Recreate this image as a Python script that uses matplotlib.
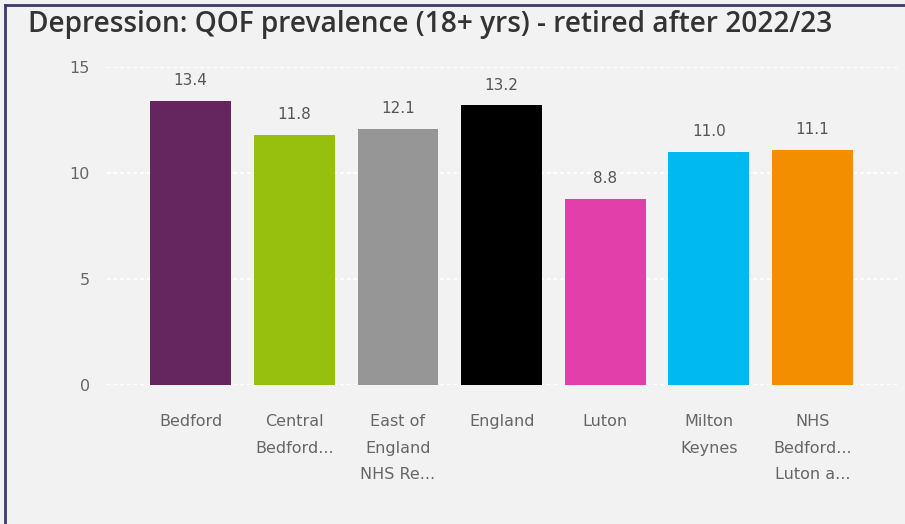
import matplotlib.pyplot as plt
from matplotlib.lines import Line2D

# data
areas = ["Bedford", "Central\nBedford...", "East of\nEngland\nNHS Re...", "England",
         "Luton", "Milton\nKeynes", "NHS\nBedford...\nLuton a..."]
values = [13.4, 11.8, 12.1, 13.2, 8.8, 11.0, 11.1]
colours = ["#652660", "#97bf0d", "#969696", "#000000", "#e23fab", "#00b9f1", "#f28e00"]
yticks = [0, 5, 10, 15]

font = ["DejaVu Sans"]
bg = "#f2f2f2"

fig = plt.figure(figsize=(9.05, 5.24), dpi=100, facecolor=bg)
ax = fig.add_axes([0.118, 0.265, 0.876, 0.607], facecolor=bg)

x = list(range(len(areas)))
ax.bar(x, values, width=0.78, color=colours, zorder=2)

for xi, v in zip(x, values):
    ax.text(xi, v + 0.6, f"{v:.1f}", ha="center", va="bottom",
            fontsize=11, color="#555555", family=font)

ax.set_ylim(0, 15)
ax.set_xlim(-0.81, 6.84)
ax.set_yticks(yticks)
ax.set_yticklabels([str(t) for t in yticks], family=font, fontsize=11.5, color="#666666")
ax.set_xticks(x)
ax.set_xticklabels(areas, family=font, fontsize=11.5, color="#666666", linespacing=1.95, va="top")
ax.tick_params(axis="y", length=0, pad=12)
ax.tick_params(axis="x", length=0, pad=21)
ax.grid(axis="y", color="white", linestyle=(0, (1.5, 1.5)), linewidth=1.6, zorder=1)
for s in ax.spines.values():
    s.set_visible(False)

fig.text(0.031, 0.953, "Depression: QOF prevalence (18+ yrs) - retired after 2022/23",
         fontsize=20.2, fontweight="semibold", color="#333333",
         family=["Open Sans", "DejaVu Sans"], ha="left", va="center")

# frame border on top and left
fig.add_artist(Line2D([0.005, 1.0], [0.99, 0.99], color="#3a3a70", lw=2, transform=fig.transFigure))
fig.add_artist(Line2D([0.005, 0.005], [0.0, 0.99], color="#3a3a70", lw=2, transform=fig.transFigure))

fig.savefig("out.png", dpi=100, facecolor=bg)
